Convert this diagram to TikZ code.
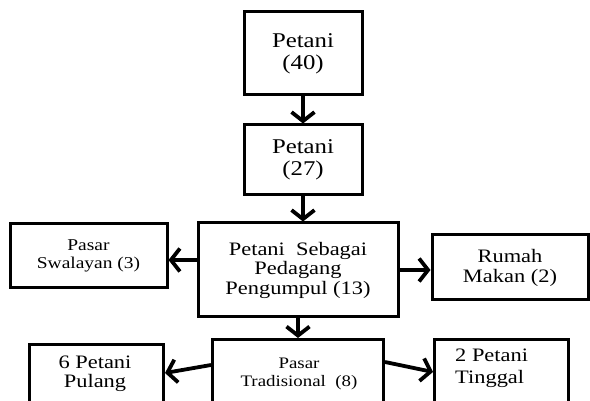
\documentclass[tikz,border=0pt]{standalone}
\usepackage{fontspec}
\setmainfont{Liberation Serif}[FakeStretch=1.18]
\usetikzlibrary{arrows.meta}
\tikzset{
  box/.style={draw=black, line width=3pt, rectangle, inner sep=0pt, align=center},
  arr/.style={line width=3.8pt, -{Straight Barb[length=9pt,width=23pt]}},
  txt/.style={inner sep=0pt, align=center}
}
\begin{document}
\begin{tikzpicture}[x=1pt,y=-1pt]
\clip (0,0) rectangle (590,401);
\fill[white] (0,0) rectangle (590,401);
% top chain
\node[box, minimum width=118pt, minimum height=83pt,
  font=\fontsize{21pt}{22pt}\selectfont] (b1) at (303,53.5) {Petani\\(40)};
\node[box, minimum width=118pt, minimum height=70pt,
  font=\fontsize{21pt}{22pt}\selectfont] (b2) at (303,160) {Petani\\(27)};
\node[box, minimum width=200pt, minimum height=94pt,
  font=\fontsize{19pt}{19.5pt}\selectfont] (b3) at (298,270) {Petani\ \ Sebagai\\Pedagang\\Pengumpul (13)};
\node[box, minimum width=157pt, minimum height=64pt,
  font=\fontsize{16.5pt}{17.5pt}\selectfont] (sw) at (88.5,256) {Pasar\\Swalayan (3)};
\node[box, minimum width=156pt, minimum height=65pt,
  font=\fontsize{19pt}{20pt}\selectfont] (rm) at (510,267.5) {Rumah\\Makan (2)};
% bottom row (cut by the picture edge)
\node[box, anchor=north west, minimum width=171pt, minimum height=80pt] (pt) at (211,338) {};
\node[box, anchor=north west, minimum width=134pt, minimum height=75pt] (pp) at (28,343) {};
\node[box, anchor=north west, minimum width=134pt, minimum height=80pt] (tg) at (433,338) {};
\node[txt, anchor=base, font=\fontsize{16pt}{18pt}\selectfont] (ptt) at (299,386) {Pasar\\Tradisional\ \ (8)};
\node[txt, anchor=base, font=\fontsize{19pt}{19pt}\selectfont] (ppt) at (95,387) {6 Petani\\Pulang};
\node[txt, anchor=base west, align=left, font=\fontsize{19pt}{21pt}\selectfont] (tgt) at (455,383) {2 Petani\\Tinggal};
% connectors
\draw[arr] (b1.south) -- (b2.north);
\draw[arr] (b2.south) -- (b2.south |- b3.north);
\draw[arr] (b3.west |- 0,260) -- (sw.east |- 0,260);
\draw[arr] (b3.east |- 0,270) -- (rm.west |- 0,270);
\draw[arr] (b3.south) -- (b3.south |- pt.north);
\draw[arr] (pt.west |- 0,365) -- (pp.east |- 0,373);
\draw[arr] (pt.east |- 0,362) -- (tg.west |- 0,372);
\end{tikzpicture}
\end{document}
